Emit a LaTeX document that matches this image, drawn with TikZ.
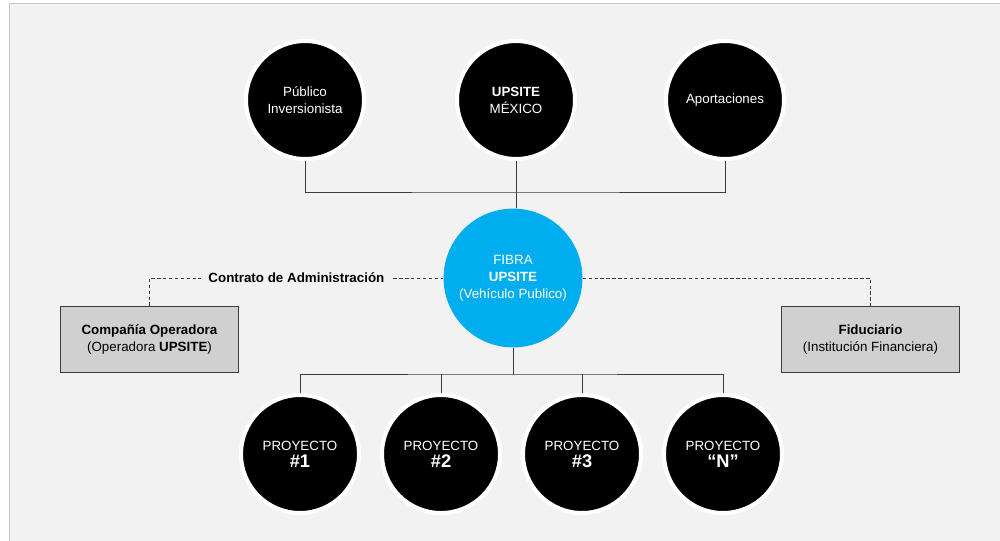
\documentclass[tikz,border=0pt]{standalone}
\usepackage{fontspec}
\setmainfont{Liberation Sans}
\usetikzlibrary{positioning}
\definecolor{F}{RGB}{242,242,242}
\definecolor{C}{RGB}{0,174,239}
\definecolor{L}{RGB}{60,60,60}
\definecolor{K}{RGB}{208,208,208}

\begin{document}
\begin{tikzpicture}[x=0.025cm, y=-0.025cm,
    blk/.style={circle, fill=black, draw=white, line width=2.9pt,
      minimum size=2.95cm, text=white, align=center,
      font=\fontsize{9.5}{12}\selectfont},
    fib/.style={circle, fill=C, minimum size=3.47cm, text=white,
      align=center, font=\fontsize{9.5}{12}\selectfont},
    gbox/.style={rectangle, fill=K, draw=L, line width=1pt,
      minimum width=4.45cm, minimum height=1.65cm, align=center,
      font=\fontsize{9.5}{12}\selectfont},
    link/.style={draw=L, line width=0.65pt},
    dash line/.style={draw=L, line width=0.65pt, dash pattern=on 2.4pt off 1.8pt}]
  \useasboundingbox (0,0) rectangle (1000,540);
  \fill[white] (0,0) rectangle (1000,540);
  \draw[fill=F, draw=black!22] (9.5,3.5) rectangle (1010,550);

  % top row
  \node[blk] (pub) at (305,100) {Público\\Inversionista};
  \node[blk] (ups) at (516,100) {\textbf{UPSITE}\\MÉXICO};
  \node[blk] (apo) at (725,100) {Aportaciones};

  % vehicle
  \node[fib] (fibra) at (513,278) {FIBRA\\\textbf{UPSITE}\\(Vehículo Publico)};

  % side boxes
  \node[gbox] (opr) at (149.5,339.5) {\textbf{Compañía Operadora}\\(Operadora \textbf{UPSITE})};
  \node[gbox] (fid) at (870.5,339.5) {\textbf{Fiduciario}\\(Institución Financiera)};

  % projects
  \node[blk] (p1) at (300,454) {PROYECTO\\{\fontsize{13}{14}\selectfont\bfseries \#1}};
  \node[blk] (p2) at (441,454) {PROYECTO\\{\fontsize{13}{14}\selectfont\bfseries \#2}};
  \node[blk] (p3) at (582,454) {PROYECTO\\{\fontsize{13}{14}\selectfont\bfseries \#3}};
  \node[blk] (pN) at (723,454) {PROYECTO\\{\fontsize{13}{14}\selectfont\bfseries ``N''}};

  % connectors
  \coordinate (tbus) at (516,192);
  \coordinate (bbus) at (513,374);
  \draw[link] (pub.south) |- (tbus) -| (apo.south);
  \draw[link] (ups.south) -- (ups.south |- fibra.north);
  \draw[link] (fibra.south) -- (bbus);
  \draw[link] (p1.north) |- (bbus) -| (pN.north);
  \draw[link] (p2.north) -- (p2.north |- bbus);
  \draw[link] (p3.north) -- (p3.north |- bbus);

  \draw[dash line] (opr.north) |- (fibra.west)
    node[pos=0.75, fill=F, inner xsep=5pt, text=black,
      font=\fontsize{9.5}{12}\selectfont\bfseries] {Contrato de Administración};
  \draw[dash line] (fibra.east) -| (fid.north);
\end{tikzpicture}
\end{document}
